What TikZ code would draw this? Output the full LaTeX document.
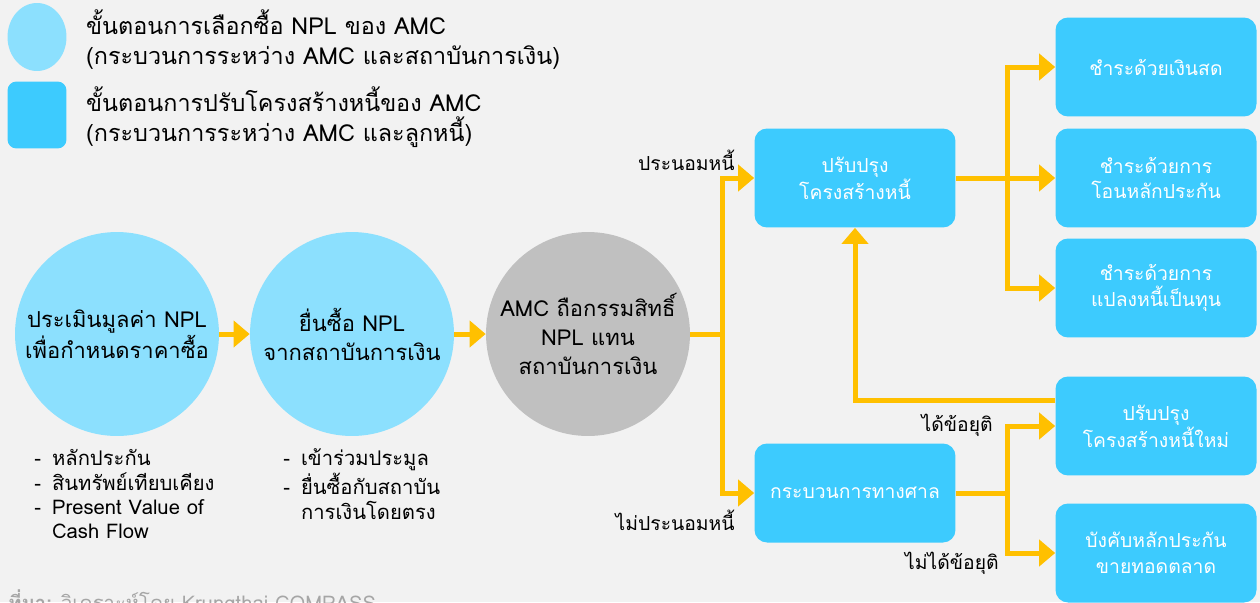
\documentclass[tikz,border=0pt]{standalone}
\usepackage{fontspec}
\setmainfont[Script=Thai]{Loma}
\usetikzlibrary{arrows.meta,positioning,shapes.geometric}
\definecolor{bgc}{HTML}{F2F2F2}
\definecolor{lightblu}{HTML}{8CE0FE}
\definecolor{boxblu}{HTML}{3DCBFE}
\definecolor{amcgray}{HTML}{C0C0C0}
\definecolor{flowyel}{HTML}{FFC000}
\definecolor{srcgray}{HTML}{A6A6A6}

\begin{document}
\begin{tikzpicture}[x=0.02cm,y=-0.02cm,
  link/.style={line width=0.1cm,flowyel},
  flow/.style={link,-{Triangle[length=0.32cm,width=0.52cm]}},
  buycircle/.style={circle,fill=lightblu,minimum size=4.08cm,inner sep=0pt,
    align=center,font=\fontsize{12.5}{16.5}\selectfont},
  stagebox/.style={rectangle,rounded corners=0.25cm,fill=boxblu,
    minimum width=4.02cm,minimum height=1.98cm,align=center,text=white,
    font=\fontsize{11}{14.5}\selectfont},
  note/.style={font=\fontsize{11.5}{13.8}\selectfont},
  branchlbl/.style={font=\fontsize{11}{13}\selectfont,anchor=east,inner sep=0pt}]
 \fill[bgc] (0,0) rectangle (1260,602);
 \useasboundingbox (0,0) rectangle (1260,602);
 % legend
 \node[ellipse,fill=lightblu,minimum width=1.18cm,minimum height=1.36cm] (keybuy) at (37,37) {};
 \node[rectangle,rounded corners=0.18cm,fill=boxblu,minimum width=1.18cm,
   minimum height=1.34cm] (keyrestr) at (37,115) {};
 \node[anchor=west,align=left,font=\fontsize{13.3}{17}\selectfont] (keybuytxt) at (80,40)
   {ขั้นตอนการเลือกซื้อ NPL ของ AMC\\(กระบวนการระหว่าง AMC และสถาบันการเงิน)};
 \node[anchor=west,align=left,font=\fontsize{13.3}{17}\selectfont] (keyrestrtxt) at (80,117)
   {ขั้นตอนการปรับโครงสร้างหนี้ของ AMC\\(กระบวนการระหว่าง AMC และลูกหนี้)};
 % NPL purchase
 \node[buycircle] (value) at (117,334) {ประเมินมูลค่า NPL\\เพื่อกำหนดราคาซื้อ};
 \node[buycircle] (bid) at (352,334) {ยื่นซื้อ NPL\\จากสถาบันการเงิน};
 \node[buycircle,fill=amcgray] (amc) at (588,334) {AMC ถือกรรมสิทธิ์\\NPL แทน\\สถาบันการเงิน};
 \draw[flow] (value) -- (bid);
 \draw[flow] (bid) -- (amc);
 \node[note,anchor=north west,inner sep=0pt] (valuenote) at (34,448)
   {\begin{tabular}{@{}l@{\hspace{0.22cm}}l@{}}
    - & หลักประกัน\\ - & สินทรัพย์เทียบเคียง\\ - & Present Value of\\ & Cash Flow
   \end{tabular}};
 \node[note,anchor=north west,inner sep=0pt] (bidnote) at (283,448)
   {\begin{tabular}{@{}l@{\hspace{0.22cm}}l@{}}
    - & เข้าร่วมประมูล\\ - & ยื่นซื้อกับสถาบัน\\ & การเงินโดยตรง
   \end{tabular}};
 % restructuring
 \node[stagebox] (restr) at (855,178) {ปรับปรุง\\โครงสร้างหนี้};
 \node[stagebox] (court) at (855,493) {กระบวนการทางศาล};
 \node[stagebox] (cash) at (1156,67) {ชำระด้วยเงินสด};
 \node[stagebox] (transfer) at (1156,178) {ชำระด้วยการ\\โอนหลักประกัน};
 \node[stagebox] (convert) at (1156,288) {ชำระด้วยการ\\แปลงหนี้เป็นทุน};
 \node[stagebox] (newrestr) at (1156,426) {ปรับปรุง\\โครงสร้างหนี้ใหม่};
 \node[stagebox] (enforce) at (1156,553) {บังคับหลักประกัน\\ขายทอดตลาด};
 \coordinate (amcsplit) at (722,334);
 \coordinate (restrsplit) at (1007,178);
 \coordinate (courtsplit) at (1007,493);
 \draw[link] (amc) -- (amcsplit);
 \draw[flow] (amcsplit) |- (restr);
 \draw[flow] (amcsplit) |- (court);
 \draw[link] (restr) -- (restrsplit);
 \draw[flow] (restrsplit) |- (cash);
 \draw[flow] (restrsplit) -- (transfer);
 \draw[flow] (restrsplit) |- (convert);
 \draw[link] (court) -- (courtsplit);
 \draw[flow] (courtsplit) |- (newrestr);
 \draw[flow] (courtsplit) |- (enforce);
 \draw[flow] ([yshift=0.52cm]newrestr.west) -| (restr.south);
 \node[branchlbl] (agree) at (735,160) {ประนอมหนี้};
 \node[branchlbl] (noagree) at (735,520) {ไม่ประนอมหนี้};
 \node[branchlbl] (settled) at (993,425) {ได้ข้อยุติ};
 \node[branchlbl] (unsettled) at (999,563) {ไม่ได้ข้อยุติ};
 % source
 \node[note,anchor=base west,text=srcgray,inner sep=0pt] (source) at (8,610)
   {\textbf{ที่มา:} วิเคราะห์โดย Krungthai COMPASS};
\end{tikzpicture}
\end{document}
